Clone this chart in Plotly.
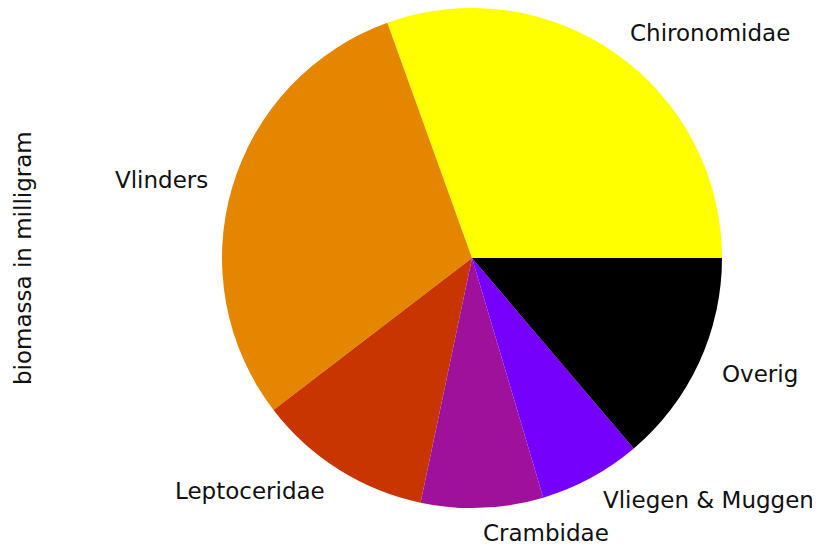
import math
import plotly.graph_objects as go

labels = ["Chironomidae", "Vlinders", "Leptoceridae", "Crambidae", "Vliegen & Muggen", "Overig"]
values = [30.5, 29.9, 11.3, 7.9, 6.6, 13.8]
colors = ["#ffff00", "#e58600", "#c83500", "#a0119b", "#7500fb", "#000000"]

# page body keeps its default 8px margin, so the figure is 8px smaller and
# every pixel position below is the reference position minus 8
OFF = 8
W, H = 820 - OFF, 549 - OFF
cx, cy, r = 472 - OFF, 258 - OFF, 250  # pie centre / radius in pixels (from top-left)
FONT = dict(family="DejaVu Sans", size=23, color="#111111")

total = sum(values)
fig = go.Figure()
# plotly puts the END of the first slice at `rotation` when counterclockwise,
# so shift it so the first slice starts at 3 o'clock like matplotlib
fig.add_trace(go.Pie(
    labels=labels, values=values, sort=False,
    direction="counterclockwise", rotation=90 - 360 * values[0] / total,
    marker=dict(colors=colors, line=dict(width=0)),
    textinfo="none", showlegend=False, hoverinfo="label+value",
    domain=dict(x=[(cx - r) / W, (cx + r) / W], y=[(H - cy - r) / H, (H - cy + r) / H]),
))

# matplotlib-style labels at 1.1 * radius on each wedge's mid angle
start = 0.0
for lab, v in zip(labels, values):
    mid = math.radians((start + v / 2) / total * 360)
    start += v
    px = cx + 1.1 * r * math.cos(mid)
    py = cy - 1.1 * r * math.sin(mid)
    right = math.cos(mid) > 0
    fig.add_annotation(
        text=lab, x=px / W, y=(H - py) / H, xref="paper", yref="paper",
        xanchor="left" if right else "right", yanchor="middle",
        borderpad=0, borderwidth=0,
        showarrow=False, font=FONT,
    )

fig.add_annotation(
    text="biomassa in milligram", textangle=-90,
    x=(23 - OFF) / W, y=(H - (258 - OFF)) / H, xref="paper", yref="paper",
    xanchor="center", yanchor="middle",
    showarrow=False, font=FONT,
)

fig.update_layout(
    width=W, height=H, margin=dict(l=0, r=0, t=0, b=0),
    paper_bgcolor="white", plot_bgcolor="white",
)

fig.write_html("out.html")
